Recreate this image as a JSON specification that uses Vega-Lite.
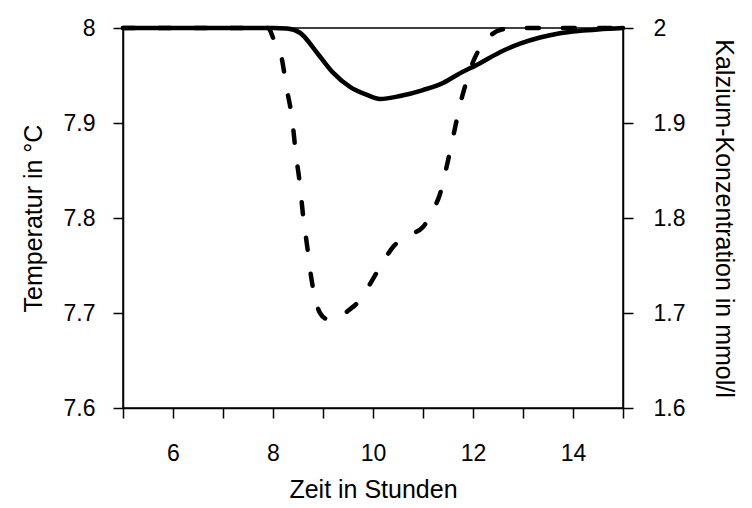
{
  "$schema": "https://vega.github.io/schema/vega-lite/v6.json",
  "width": 500,
  "height": 380,
  "autosize": "none",
  "padding": {"left": 123, "top": 28, "right": 129, "bottom": 100},
  "background": "white",
  "config": {
    "font": "Liberation Sans",
    "view": {"stroke": "black", "strokeWidth": 1.5},
    "axis": {
      "labelFont": "Liberation Sans",
      "titleFont": "Liberation Sans",
      "labelFontSize": 23,
      "titleFontSize": 25,
      "labelColor": "black",
      "titleColor": "black",
      "titleFontWeight": "normal",
      "domainColor": "black",
      "domainWidth": 1.5,
      "tickColor": "black",
      "tickWidth": 1.5,
      "tickSize": 10,
      "grid": false
    }
  },
  "datasets": {
    "temp": [
      {"t": 5, "temp": 8},
      {"t": 6, "temp": 8},
      {"t": 7, "temp": 8},
      {"t": 8, "temp": 8},
      {"t": 8.28, "temp": 7.9995},
      {"t": 8.54, "temp": 7.995},
      {"t": 8.88, "temp": 7.974},
      {"t": 9.2, "temp": 7.953},
      {"t": 9.54, "temp": 7.938},
      {"t": 9.88, "temp": 7.9295},
      {"t": 10.14, "temp": 7.9253},
      {"t": 10.54, "temp": 7.9284},
      {"t": 11.0, "temp": 7.9347},
      {"t": 11.4, "temp": 7.9421},
      {"t": 11.68, "temp": 7.9505},
      {"t": 12.14, "temp": 7.963},
      {"t": 12.54, "temp": 7.9745},
      {"t": 12.94, "temp": 7.9835},
      {"t": 13.34, "temp": 7.99},
      {"t": 13.74, "temp": 7.9945},
      {"t": 14.14, "temp": 7.997},
      {"t": 14.5, "temp": 7.9985},
      {"t": 15, "temp": 8}
    ],
    "ca": [
      {"t": 5, "ca": 2},
      {"t": 6, "ca": 2},
      {"t": 7, "ca": 2},
      {"t": 7.9, "ca": 2},
      {"t": 8.02, "ca": 1.9874},
      {"t": 8.16, "ca": 1.9716},
      {"t": 8.28, "ca": 1.9347},
      {"t": 8.38, "ca": 1.9053},
      {"t": 8.46, "ca": 1.8663},
      {"t": 8.54, "ca": 1.8347},
      {"t": 8.6, "ca": 1.8032},
      {"t": 8.68, "ca": 1.7716},
      {"t": 8.76, "ca": 1.7389},
      {"t": 8.84, "ca": 1.7158},
      {"t": 8.94, "ca": 1.7},
      {"t": 9.08, "ca": 1.6937},
      {"t": 9.28, "ca": 1.6947},
      {"t": 9.52, "ca": 1.7032},
      {"t": 9.74, "ca": 1.7137},
      {"t": 9.94, "ca": 1.7305},
      {"t": 10.2, "ca": 1.7537},
      {"t": 10.4, "ca": 1.7695},
      {"t": 10.72, "ca": 1.7821},
      {"t": 11.0, "ca": 1.7905},
      {"t": 11.2, "ca": 1.8084},
      {"t": 11.34, "ca": 1.8253},
      {"t": 11.48, "ca": 1.8558},
      {"t": 11.64, "ca": 1.8947},
      {"t": 11.74, "ca": 1.919},
      {"t": 11.86, "ca": 1.942},
      {"t": 12.0, "ca": 1.9642},
      {"t": 12.14, "ca": 1.9789},
      {"t": 12.34, "ca": 1.9916},
      {"t": 12.54, "ca": 1.9979},
      {"t": 12.84, "ca": 2},
      {"t": 14, "ca": 2},
      {"t": 15, "ca": 2}
    ]
  },
  "layer": [
    {
      "data": {"name": "temp"},
      "mark": {"type": "line", "color": "black", "strokeWidth": 4.5, "interpolate": "monotone", "clip": false, "strokeCap": "round"},
      "encoding": {
        "x": {
          "field": "t", "type": "quantitative",
          "scale": {"domain": [5, 15], "nice": false, "zero": false},
          "axis": {
            "title": "Zeit in Stunden",
            "values": [5, 6, 7, 8, 9, 10, 11, 12, 13, 14, 15],
            "labelExpr": "datum.value % 2 == 0 ? datum.label : ''",
            "labelPadding": 24,
            "titlePadding": 12,
            "labelFlush": false
          }
        },
        "y": {
          "field": "temp", "type": "quantitative",
          "scale": {"domain": [7.6, 8], "nice": false, "zero": false},
          "axis": {
            "title": "Temperatur in °C",
            "orient": "left",
            "values": [7.6, 7.7, 7.8, 7.9, 8],
            "format": "~g",
            "labelPadding": 18,
            "titlePadding": 17,
            "labelFlush": false
          }
        }
      }
    },
    {
      "data": {"name": "ca"},
      "mark": {"type": "line", "color": "black", "strokeWidth": 4.5, "interpolate": "monotone", "clip": false, "strokeDash": [12, 24], "strokeCap": "round"},
      "encoding": {
        "x": {"field": "t", "type": "quantitative"},
        "y": {
          "field": "ca", "type": "quantitative",
          "scale": {"domain": [1.6, 2], "nice": false, "zero": false},
          "axis": {
            "title": "Kalzium-Konzentration in mmol/l",
            "orient": "right",
            "values": [1.6, 1.7, 1.8, 1.9, 2],
            "format": "~g",
            "labelPadding": 20,
            "titlePadding": 26,
            "titleAngle": 90,
            "labelFlush": false
          }
        }
      }
    }
  ],
  "resolve": {"scale": {"y": "independent"}}
}
